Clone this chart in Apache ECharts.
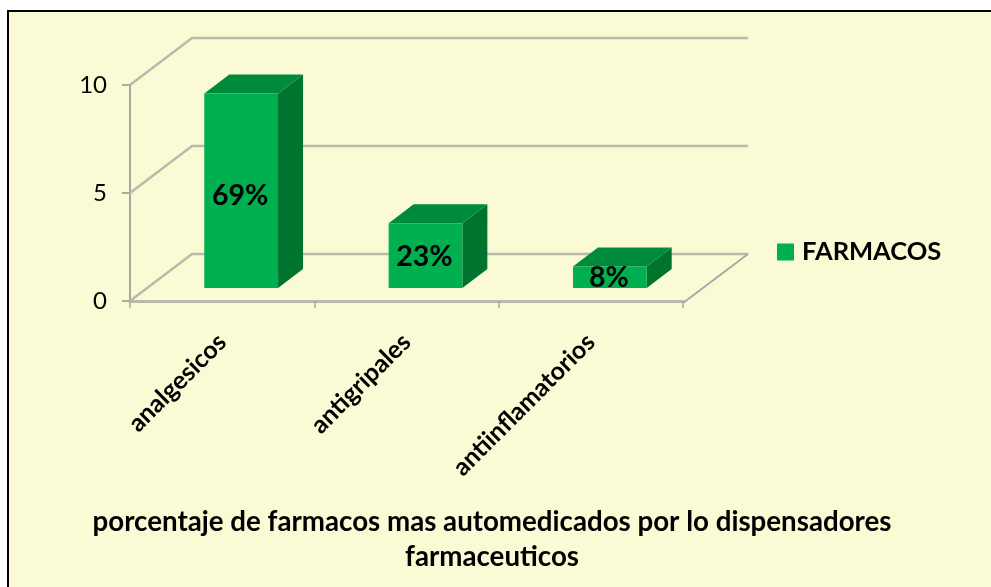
<!DOCTYPE html>
<html>
<head>
<meta charset="utf-8">
<style>
html,body{margin:0;padding:0;background:#fff;width:991px;height:587px;overflow:hidden}
#bg{position:absolute;left:7px;top:10px;width:984px;height:577px;box-sizing:border-box;background:#FAFBD4;border-left:2px solid #000;border-top:2px solid #000}
#c{position:absolute;left:0;top:0;width:991px;height:587px}
</style>
<script src="https://cdn.jsdelivr.net/npm/echarts@6/dist/echarts.min.js"></script>
</head>
<body>
<div id="bg"></div>
<div id="c"></div>
<script>
var categories = ['analgesicos', 'antigripales', 'antiinflamatorios'];
var values = [9, 3, 1];
var percentLabels = ['69%', '23%', '8%'];
var yTicks = [0, 5, 10];
var seriesName = 'FARMACOS';
var titleText = 'porcentaje de farmacos mas automedicados por lo dispensadores\nfarmaceuticos';

var FONT = 'Lato, Carlito, sans-serif';
var WALL = [62, -47], FRONT = [19, -13], DEPTH = [25, -19];
var GRID_COLOR = '#B9B9AC', AXIS_COLOR = '#A9A9A4';

var chart = echarts.init(document.getElementById('c'), null, {renderer: 'canvas'});
chart.setOption({
  animation: false,
  backgroundColor: 'transparent',
  title: {
    text: titleText, left: 487, top: 500, textAlign: 'center',
    textStyle: {fontFamily: FONT, fontSize: 27.7, fontWeight: 'bold', color: '#000', lineHeight: 35}
  },
  legend: {
    data: [{name: seriesName, icon: 'rect'}],
    left: 772, top: 234, itemWidth: 17, itemHeight: 17,
    selectedMode: false,
    textStyle: {fontFamily: FONT, fontSize: 25.5, fontWeight: 'bold', color: '#000', padding: [0, 0, 0, 3]}
  },
  grid: {left: 130, right: 308, top: 85, bottom: 286},
  xAxis: {
    type: 'category', data: categories, offset: 1,
    axisLine: {lineStyle: {color: GRID_COLOR, width: 3}},
    axisTick: {show: true, length: 7, lineStyle: {color: AXIS_COLOR, width: 1.5}},
    axisLabel: {rotate: 45, margin: 36, interval: 0, fontFamily: FONT, fontSize: 25, fontWeight: 'bold', color: '#000'}
  },
  yAxis: {
    type: 'value', min: 0, max: 10, interval: 5,
    splitLine: {show: false},
    axisLine: {show: true, lineStyle: {color: AXIS_COLOR, width: 2}},
    axisTick: {show: true, length: 8, lineStyle: {color: AXIS_COLOR, width: 2}},
    axisLabel: {margin: 23, fontFamily: FONT, fontSize: 24, color: '#000'}
  },
  series: [
    {
      type: 'custom', name: 'walls', silent: true, z: 1, legendHoverLink: false,
      coordinateSystem: 'cartesian2d',
      data: yTicks.map(function (v) { return [0, v]; }),
      renderItem: function (params, api) {
        var cs = params.coordSys;
        var y = api.coord([0, api.value(1)])[1];
        var x0 = cs.x, x1 = cs.x + cs.width;
        var kids = [
          {type: 'polyline', shape: {points: [[x0, y], [x0 + WALL[0], y + WALL[1]], [x1 + WALL[0] + 3, y + WALL[1]]]},
           style: {stroke: GRID_COLOR, lineWidth: 2.5, fill: null}}
        ];
        if (api.value(1) === 0) {
          kids.push({type: 'line', shape: {x1: x1, y1: y + 2, x2: x1 + WALL[0] + 3, y2: y + WALL[1]},
                     style: {stroke: AXIS_COLOR, lineWidth: 2}});
        }
        return {type: 'group', children: kids};
      }
    },
    {
      type: 'custom', name: seriesName, z: 3,
      coordinateSystem: 'cartesian2d',
      itemStyle: {color: '#00B050'},
      data: values.map(function (v, i) { return [i, v]; }),
      encode: {x: 0, y: 1},
      renderItem: function (params, api) {
        var top = api.coord([api.value(0), api.value(1)]);
        var base = api.coord([api.value(0), 0]);
        var w = api.size([1, 0])[0] * 0.4;
        var l = top[0] - w / 2 + FRONT[0], r = l + w;
        var t = top[1] + FRONT[1], b = base[1] + FRONT[1];
        var dx = DEPTH[0], dy = DEPTH[1];
        return {type: 'group', children: [
          {type: 'polygon', shape: {points: [[r, t], [r + dx, t + dy], [r + dx, b + dy], [r, b]]}, style: {fill: '#00732F'}},
          {type: 'polygon', shape: {points: [[l, t], [l + dx, t + dy], [r + dx, t + dy], [r, t]]}, style: {fill: '#008A3C'}},
          {type: 'rect', shape: {x: l, y: t, width: w, height: b - t}, style: {fill: '#00B050'}},
          {type: 'text', x: (l + r) / 2 - 1, y: (t + b) / 2 + (b - t) * 0.025,
           style: {text: percentLabels[params.dataIndex], fill: '#000', align: 'center', verticalAlign: 'middle',
                   font: 'bold 28.5px ' + FONT}}
        ]};
      }
    }
  ]
});
</script>
</body>
</html>
